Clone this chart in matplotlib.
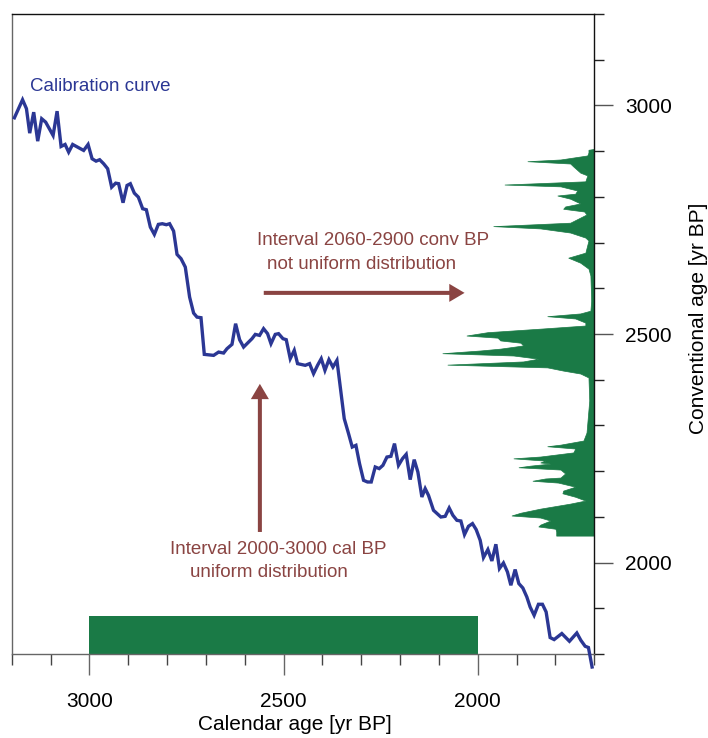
"""Calibration sketch: calendar vs conventional age, with the two intervals."""

import matplotlib

matplotlib.use("Agg")
import matplotlib.pyplot as plt
from matplotlib.ticker import MultipleLocator

plt.rcParams["font.family"] = ["Liberation Sans", "DejaVu Sans"]

# ---------------------------------------------------------------------------
# Data
# ---------------------------------------------------------------------------

CAL_AGE = [
    3193, 3172, 3162, 3153.6, 3143.3, 3133, 3122.7, 3112.5, 3093.4, 3083.1,
    3072.8, 3062.5, 3053.3, 3043, 3014.7, 3003.3, 2993, 2982.8, 2973.5, 2963.2,
    2952.9, 2942.6, 2932.3, 2924.6, 2913.3, 2903, 2894.5, 2884.2, 2873.9, 2862.8,
    2853.3, 2843, 2832.7, 2822.4, 2812.2, 2801.9, 2793.4, 2783.1, 2774.3, 2764,
    2753, 2741.9, 2731.6, 2722.9, 2712.6, 2704.1, 2680.1, 2667.3, 2654.4, 2645.7,
    2632.8, 2623.5, 2613.2, 2602.9, 2581.3, 2572.8, 2561.8, 2551.5, 2541.2, 2532.4,
    2521.4, 2512.9, 2501.6, 2493.1, 2482.8, 2472.5, 2464, 2444.2, 2433.1, 2422.8,
    2412.5, 2403, 2393.5, 2383.2, 2372.9, 2362.6, 2354.1, 2343.8, 2332.7, 2323.2,
    2313.7, 2304.4, 2294.1, 2283.9, 2274.3, 2264, 2253.7, 2244.2, 2233.9, 2223.6,
    2214.4, 2204.1, 2193.8, 2184.3, 2174, 2163.7, 2154.2, 2143.9, 2135.4, 2126.9,
    2114, 2095, 2083.9, 2073.6, 2064.1, 2053.8, 2043.5, 2034.2, 2023.9, 2013.6,
    2004.1, 1993.8, 1985.3, 1974, 1963.7, 1953.4, 1944.2, 1933.9, 1923.6, 1914.8,
    1903.8, 1894.3, 1884, 1873.7, 1865.2, 1854.9, 1843.8, 1833.5, 1824, 1813.7,
    1803.4, 1783.6, 1764, 1745, 1734.7, 1723.6, 1715.1, 1705.7,
]
CONV_AGE = [
    2973, 3012.5, 2993, 2939.4, 2985.3, 2921.9, 2970.9, 2963.5, 2934.4, 2987.5,
    2910.3, 2914.7, 2897.9, 2914.7, 2901.6, 2914.7, 2883.4, 2878.2, 2881.3, 2872.5,
    2861.6, 2821.3, 2830, 2828.8, 2787.2, 2825, 2828.8, 2808.2, 2799.5, 2774.1,
    2771.9, 2733.9, 2717.9, 2739.8, 2741.3, 2739.1, 2741.3, 2725.1, 2674.2, 2664.8,
    2646.4, 2580.8, 2545.8, 2537, 2535.7, 2455.5, 2453.3, 2460.5, 2458.4, 2467.9,
    2477.4, 2522.6, 2487.6, 2471.5, 2489.8, 2499.2, 2497, 2511.7, 2500.8, 2478.9,
    2499.2, 2500.8, 2489.8, 2487.6, 2446.1, 2464.3, 2435.2, 2431.5, 2435.2, 2413.3,
    2431.5, 2446.1, 2420.5, 2443.9, 2427.7, 2442.4, 2384, 2314.9, 2282.1, 2252.8,
    2256.5, 2216.5, 2180, 2176.3, 2176.3, 2209.1, 2205.6, 2212.8, 2230.9, 2232.5,
    2260.3, 2212.8, 2227.4, 2236.8, 2181.5, 2225.2, 2198.1, 2143.5, 2161.8, 2147.2,
    2114.4, 2099.7, 2101.2, 2119.4, 2103.5, 2092.5, 2091, 2061.3, 2079.4, 2085.3,
    2072.2, 2048.8, 2011, 2028.5, 2003.6, 2040.1, 1987, 1999.2, 1979.5, 1950.4,
    1984.8, 1954.1, 1944.5, 1924.8, 1902.9, 1884.8, 1908.8, 1908.8, 1892, 1836,
    1831.6, 1844.8, 1827.9, 1846, 1830.1, 1817, 1814.2, 1771.6,
]

# conventional-age distribution, drawn as a profile hanging off the right axis
DENS_CONV = [
    2905, 2903, 2897, 2890.6, 2881.8, 2878, 2873, 2866.5, 2853, 2847,
    2834, 2827, 2823, 2814, 2807, 2803, 2796, 2785.6, 2779, 2774,
    2768, 2761.5, 2743.5, 2736, 2731, 2722, 2711, 2704.6, 2678, 2667,
    2656, 2643, 2628, 2573, 2551, 2545, 2539, 2534, 2525, 2518.6,
    2512, 2504, 2496.7, 2492, 2486, 2481, 2475, 2468, 2464, 2458,
    2453, 2446, 2440, 2433, 2427, 2420, 2413.6, 2405, 2354.5, 2284.5,
    2267, 2258, 2254.5, 2249.5, 2241, 2232, 2228, 2223, 2219, 2216.6,
    2212, 2208.5, 2203.5, 2195, 2186, 2184, 2179, 2175, 2166, 2157.5,
    2151.6, 2144, 2135.7, 2129, 2118, 2109, 2103, 2098.5, 2092, 2087.5,
    2083, 2079, 2074, 2068, 2059, 2059,
]
DENS_WIDTH = [
    0, 15, 15, 18, 87, 172, 62, 54, 36, 18,
    23, 231, 87, 44, 49, 95, 62, 36, 75, 80,
    26, 20, 62, 260, 139, 62, 23, 15, 23, 67,
    36, 15, 10, 8, 10, 36, 121, 49, 23, 23,
    134, 275, 329, 249, 242, 190, 183, 242, 293, 391,
    208, 144, 183, 378, 121, 80, 36, 15, 13, 20,
    28, 87, 121, 49, 54, 139, 208, 126, 139, 113,
    165, 195, 87, 75, 87, 126, 159, 93, 49, 80,
    82, 49, 23, 62, 139, 190, 213, 139, 113, 126,
    139, 144, 100, 98, 98, 0,
]

CAL_INTERVAL = (2000, 3000)
CAL_BAR_TOP = 1884

X_LIM = (3200, 1700)
Y_LIM = (1800, 3200)

CURVE_COLOR = "#2b3794"
GREEN = "#1a7a46"
ARROW_COLOR = "#8a4442"

# ---------------------------------------------------------------------------
# Figure
# ---------------------------------------------------------------------------

fig = plt.figure(figsize=(7.08, 7.38), dpi=100)
ax = fig.add_axes([0.0165, 0.1138, 0.8229, 0.8672])

# uniform calendar interval
ax.fill_between(CAL_INTERVAL, Y_LIM[0], CAL_BAR_TOP, color=GREEN, lw=0, zorder=2)

# conventional distribution
base = X_LIM[1]
ax.fill_betweenx(DENS_CONV, base, [base + w for w in DENS_WIDTH],
                 color=GREEN, lw=0.5, edgecolor=GREEN, zorder=2)

# calibration curve
ax.plot(CAL_AGE, CONV_AGE, color=CURVE_COLOR, lw=2.4, zorder=4, clip_on=False,
        solid_joinstyle="miter")
ax.text(3152, 3041, "Calibration curve", color=CURVE_COLOR, fontsize=13.5,
        va="center", ha="left")

# arrows
arrow_kw = dict(width=2.9, headwidth=13, headlength=11, lw=0,
                facecolor=ARROW_COLOR, edgecolor=ARROW_COLOR, shrink=0)
ax.annotate("", xy=(2034, 2590), xytext=(2551, 2590), arrowprops=arrow_kw, zorder=3)
ax.annotate("", xy=(2561, 2391), xytext=(2561, 2067), arrowprops=arrow_kw, zorder=3)

ax.text(2568, 2705, "Interval 2060-2900 conv BP", color=ARROW_COLOR, fontsize=13.5,
        va="center", ha="left")
ax.text(2543, 2653, "not uniform distribution", color=ARROW_COLOR, fontsize=13.5,
        va="center", ha="left")
ax.text(2793, 2029, "Interval 2000-3000 cal BP", color=ARROW_COLOR, fontsize=13.5,
        va="center", ha="left")
ax.text(2740, 1978, "uniform distribution", color=ARROW_COLOR, fontsize=13.5,
        va="center", ha="left")

# axes
ax.set_xlim(*X_LIM)
ax.set_ylim(*Y_LIM)
ax.xaxis.set_major_locator(MultipleLocator(500))
ax.xaxis.set_minor_locator(MultipleLocator(100))
ax.yaxis.set_major_locator(MultipleLocator(500))
ax.yaxis.set_minor_locator(MultipleLocator(100))
ax.yaxis.tick_right()
ax.yaxis.set_label_position("right")

ax.tick_params(axis="x", which="major", length=15, width=1, color="#666666",
               labelsize=15, pad=12)
ax.tick_params(axis="x", which="minor", length=8, width=1, color="#444444")
ax.tick_params(axis="y", which="major", length=14, width=1, color="#555555",
               labelsize=15, pad=8)
ax.tick_params(axis="y", which="minor", length=7, width=1, color="#222222")

ax.spines["left"].set_color("#666666")
ax.spines["bottom"].set_color("#666666")
ax.spines["top"].set_color("#111111")
ax.spines["right"].set_color("#111111")
for sp in ax.spines.values():
    sp.set_linewidth(1)

ax.text(0.486, -0.11, "Calendar age [yr BP]", transform=ax.transAxes,
        fontsize=15, ha="center", va="center")
ax.text(1.178, 0.524, "Conventional age [yr BP]", transform=ax.transAxes,
        fontsize=15, ha="center", va="center", rotation=90)

fig.savefig("out.png", dpi=100)
